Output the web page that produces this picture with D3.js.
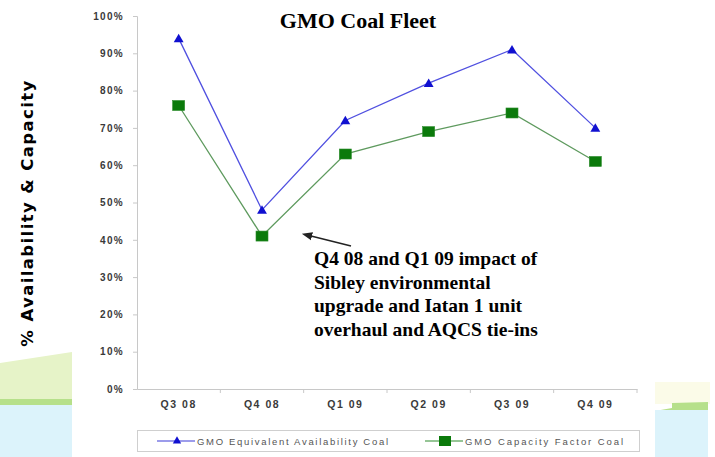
<!DOCTYPE html>
<html>
<head>
<meta charset="utf-8">
<script src="https://cdn.jsdelivr.net/npm/d3@7"></script>
<style>
  body { margin: 0; background: #fff; }
  svg { display: block; }
</style>
</head>
<body>
<div id="chart"></div>
<script>
// chart data
const quarters = ["Q3 08", "Q4 08", "Q1 09", "Q2 09", "Q3 09", "Q4 09"];
const availability = [94, 48, 72, 82, 91, 70];
const capacity = [76, 41, 63, 69, 74, 61];
const yTicks = [0, 10, 20, 30, 40, 50, 60, 70, 80, 90, 100];
const noteLines = ["Q4 08 and Q1 09 impact of", "Sibley environmental",
    "upgrade and Iatan 1 unit", "overhaul and AQCS tie-ins"];

const W = 715, H = 457;
const svg = d3.select("#chart").append("svg").attr("width", W).attr("height", H);

// background swooshes (slide decoration)
const bg = svg.append("g");
bg.append("path").attr("d", "M0,363 L72,352 L72,402 L0,400 Z").attr("fill", "#e6f3c8");
bg.append("rect").attr("x", 0).attr("y", 399).attr("width", 72).attr("height", 6).attr("fill", "#b6e08a");
bg.append("rect").attr("x", 0).attr("y", 405).attr("width", 72).attr("height", 52).attr("fill", "#dcf3fb");
bg.append("rect").attr("x", 655).attr("y", 382).attr("width", 55).attr("height", 22).attr("fill", "#fbfbe8");
bg.append("path").attr("d", "M672,403 L708,402 L708,410 L655,411 L672,408 Z").attr("fill", "#b6e08a");
bg.append("rect").attr("x", 655).attr("y", 410).attr("width", 53).attr("height", 47).attr("fill", "#dcf3fb");

const plotLeft = 137, plotRight = 637, plotTop = 16, plotBottom = 389;

const x = d3.scaleBand().domain(quarters).range([plotLeft, plotRight]);
const y = d3.scaleLinear().domain([0, 100]).range([plotBottom, plotTop]);

// y axis
const yAxis = svg.append("g")
    .attr("transform", "translate(" + plotLeft + ",0)")
    .call(d3.axisLeft(y).tickValues(yTicks).tickSize(4).tickFormat(d => d + "%"));
yAxis.select(".domain").attr("stroke", "#c8c8c8");
yAxis.selectAll(".tick line").attr("stroke", "#c8c8c8");
yAxis.selectAll("text")
    .attr("x", -13)
    .attr("font-family", "Liberation Sans, Arial, sans-serif")
    .attr("font-size", 10).attr("font-weight", "bold").attr("fill", "#3a3a3a")
    .attr("letter-spacing", 1.3);

// x axis
const xAxis = svg.append("g")
    .attr("transform", "translate(0," + plotBottom + ")")
    .call(d3.axisBottom(x).tickSize(0).tickPadding(12));
xAxis.select(".domain").attr("stroke", "#c8c8c8");
xAxis.selectAll("text")
    .attr("font-family", "Liberation Sans, Arial, sans-serif")
    .attr("font-size", 10.5).attr("font-weight", "bold").attr("fill", "#3a3a3a")
    .attr("letter-spacing", 1.5);
// tick marks between categories
svg.append("g").selectAll("line")
    .data(quarters.slice(1).concat(["end"]))
    .enter().append("line")
    .attr("x1", (d, i) => plotLeft + x.bandwidth() * (i + 1))
    .attr("x2", (d, i) => plotLeft + x.bandwidth() * (i + 1))
    .attr("y1", plotBottom).attr("y2", plotBottom + 4)
    .attr("stroke", "#c8c8c8");

const cx = (d, i) => x(quarters[i]) + x.bandwidth() / 2;

// lines
const line = d3.line().x(cx).y(d => y(d));
svg.append("path").datum(availability)
    .attr("fill", "none").attr("stroke", "#5050e0").attr("stroke-width", 1.3)
    .attr("d", line);
svg.append("path").datum(capacity)
    .attr("fill", "none").attr("stroke", "#5e9a5e").attr("stroke-width", 1.3)
    .attr("d", line);

const tri = d3.symbol().type(d3.symbolTriangle).size(42);
svg.selectAll(".tri").data(availability).enter().append("path")
    .attr("class", "tri")
    .attr("transform", (d, i) => "translate(" + cx(d, i) + "," + (y(d) + 1) + ")")
    .attr("d", tri).attr("fill", "#1010d0");

svg.selectAll(".sq").data(capacity).enter().append("rect")
    .attr("class", "sq")
    .attr("x", (d, i) => cx(d, i) - 6).attr("y", d => y(d) - 5)
    .attr("width", 12).attr("height", 10)
    .attr("fill", "#0b7a0b").attr("stroke", "#2c8c2c").attr("stroke-width", 0.6);

// title
svg.append("text")
    .attr("x", 358).attr("y", 28)
    .attr("text-anchor", "middle")
    .attr("font-family", "Liberation Serif, Times New Roman, serif")
    .attr("font-size", 22).attr("font-weight", "bold")
    .text("GMO Coal Fleet");

// y axis title
svg.append("text")
    .attr("transform", "translate(33,213) rotate(-90)")
    .attr("text-anchor", "middle")
    .attr("font-family", "DejaVu Sans, Verdana, sans-serif")
    .attr("font-size", 16.5).attr("font-weight", "bold")
    .attr("letter-spacing", 1.4)
    .text("% Availability & Capacity");

// annotation
svg.append("defs").append("marker")
    .attr("id", "arrow").attr("viewBox", "0 0 10 10")
    .attr("refX", 1).attr("refY", 5)
    .attr("markerWidth", 7).attr("markerHeight", 7)
    .attr("orient", "auto-start-reverse")
    .append("path").attr("d", "M0,1 L10,5 L0,9 Z").attr("fill", "#222");
svg.append("line")
    .attr("x1", 351).attr("y1", 246).attr("x2", 311).attr("y2", 236)
    .attr("stroke", "#222").attr("stroke-width", 1.5)
    .attr("marker-end", "url(#arrow)");

svg.append("g").selectAll("text")
    .data(noteLines).enter().append("text")
    .attr("x", 314).attr("y", (d, i) => 265 + i * 23.5)
    .attr("font-family", "Liberation Serif, Times New Roman, serif")
    .attr("font-size", 19.5).attr("font-weight", "bold")
    .text(d => d);

// legend
const leg = svg.append("g");
leg.append("rect")
    .attr("x", 137.5).attr("y", 430.5).attr("width", 502).attr("height", 21)
    .attr("fill", "#fff").attr("stroke", "#cfcfcf");
const legItems = [
    { name: "GMO Equivalent Availability Coal", x: 157, len: 191, color: "#3a3ad8", mark: "tri" },
    { name: "GMO Capacity Factor Coal", x: 425, len: 158, color: "#2e8b2e", mark: "sq" }
];
legItems.forEach(function (it) {
    leg.append("line").attr("x1", it.x).attr("x2", it.x + 38)
        .attr("y1", 441).attr("y2", 441).attr("stroke", it.color).attr("stroke-width", 1.2);
    if (it.mark === "tri") {
        leg.append("path").attr("transform", "translate(" + (it.x + 20) + ",441)")
            .attr("d", d3.symbol().type(d3.symbolTriangle).size(30)).attr("fill", "#1010d0");
    } else {
        leg.append("rect").attr("x", it.x + 14).attr("y", 436).attr("width", 12).attr("height", 10)
            .attr("fill", "#0b7a0b");
    }
    leg.append("text").attr("x", it.x + 40).attr("y", 445)
        .attr("font-family", "Liberation Sans, Arial, sans-serif")
        .attr("font-size", 9.5).attr("fill", "#555")
        .attr("textLength", it.len).attr("lengthAdjust", "spacing")
        .text(it.name);
});
</script>
</body>
</html>
